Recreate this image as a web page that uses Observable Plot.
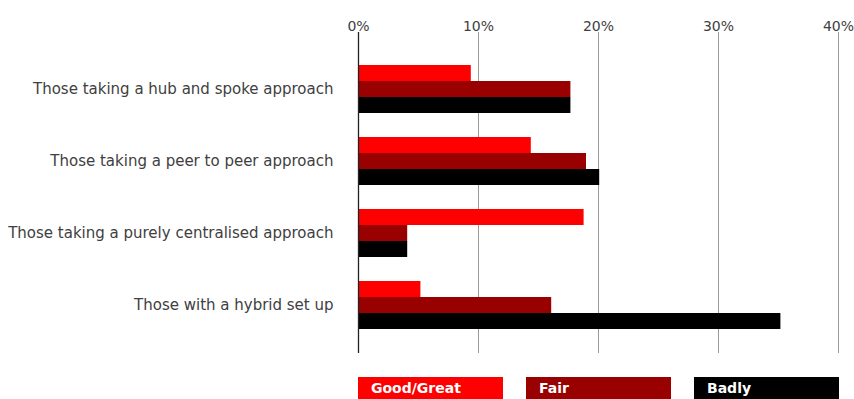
<!DOCTYPE html>
<html>
<head>
<meta charset="utf-8">
<script src="https://cdn.jsdelivr.net/npm/d3@7"></script>
<script src="https://cdn.jsdelivr.net/npm/@observablehq/plot@0.6"></script>
<style>
  html, body { margin: 0; padding: 0; background: #fff; }
  #chart svg { display: block; }
  .legend { display: flex; margin-left: 358px; margin-top: 7px; gap: 23px; font-family: "DejaVu Sans", sans-serif; }
  .legend div { width: 145px; height: 22px; box-sizing: border-box; padding-left: 13px; color: #fff; font-weight: bold; font-size: 14px; line-height: 23px; }
</style>
</head>
<body>
<div id="chart"></div>
<div class="legend" id="legend"></div>
<script>
const categories = [
  "Those taking a hub and spoke approach",
  "Those taking a peer to peer approach",
  "Those taking a purely centralised approach",
  "Those with a hybrid set up"
];
const series = ["Good/Great", "Fair", "Badly"];
const goodGreat = [9.4, 14.4, 18.8, 5.2];
const fair = [17.7, 19.0, 4.1, 16.1];
const badly = [17.7, 20.1, 4.1, 35.2];
const xTicks = [0, 10, 20, 30, 40];
const colors = ["#ff0000", "#990000", "#000000"];

const values = [goodGreat, fair, badly];
const rows = [];
series.forEach((s, si) => categories.forEach((c, ci) => rows.push({category: c, series: s, value: values[si][ci]})));

const font = "DejaVu Sans, sans-serif";
const bw = 48;
const barMarks = series.map((s, si) => Plot.barX(rows.filter(d => d.series === s), {
  x: "value", y: "category", fill: colors[si],
  insetTop: si * bw / 3, insetBottom: (2 - si) * bw / 3
}));

const chart = Plot.plot({
  width: 854,
  height: 370,
  marginLeft: 358,
  marginRight: 16,
  marginTop: 32,
  marginBottom: 17,
  style: {fontFamily: font, fontSize: "15px", color: "#404040", background: "#fff"},
  x: {domain: [0, 40], ticks: xTicks, tickSize: 0, tickFormat: d => d + "%", label: null},
  y: {domain: categories, range: [41, 353], padding: 1/3, label: null},
  marks: [
    Plot.gridX(xTicks.slice(1), {stroke: "#999", strokeOpacity: 1}),
    ...barMarks,
    Plot.ruleX([0], {stroke: "#222", strokeWidth: 1.3}),
    Plot.axisX({anchor: "top", ticks: xTicks, tickSize: 0, tickPadding: 2, tickFormat: d => d + "%", fontSize: 14, label: null}),
    Plot.axisY({anchor: "left", tickSize: 0, tickPadding: 25, fontSize: 15, label: null})
  ]
});
document.getElementById("chart").appendChild(chart);

const legend = document.getElementById("legend");
series.forEach((s, i) => {
  const el = document.createElement("div");
  el.style.background = colors[i];
  el.textContent = s;
  legend.appendChild(el);
});
</script>
</body>
</html>
